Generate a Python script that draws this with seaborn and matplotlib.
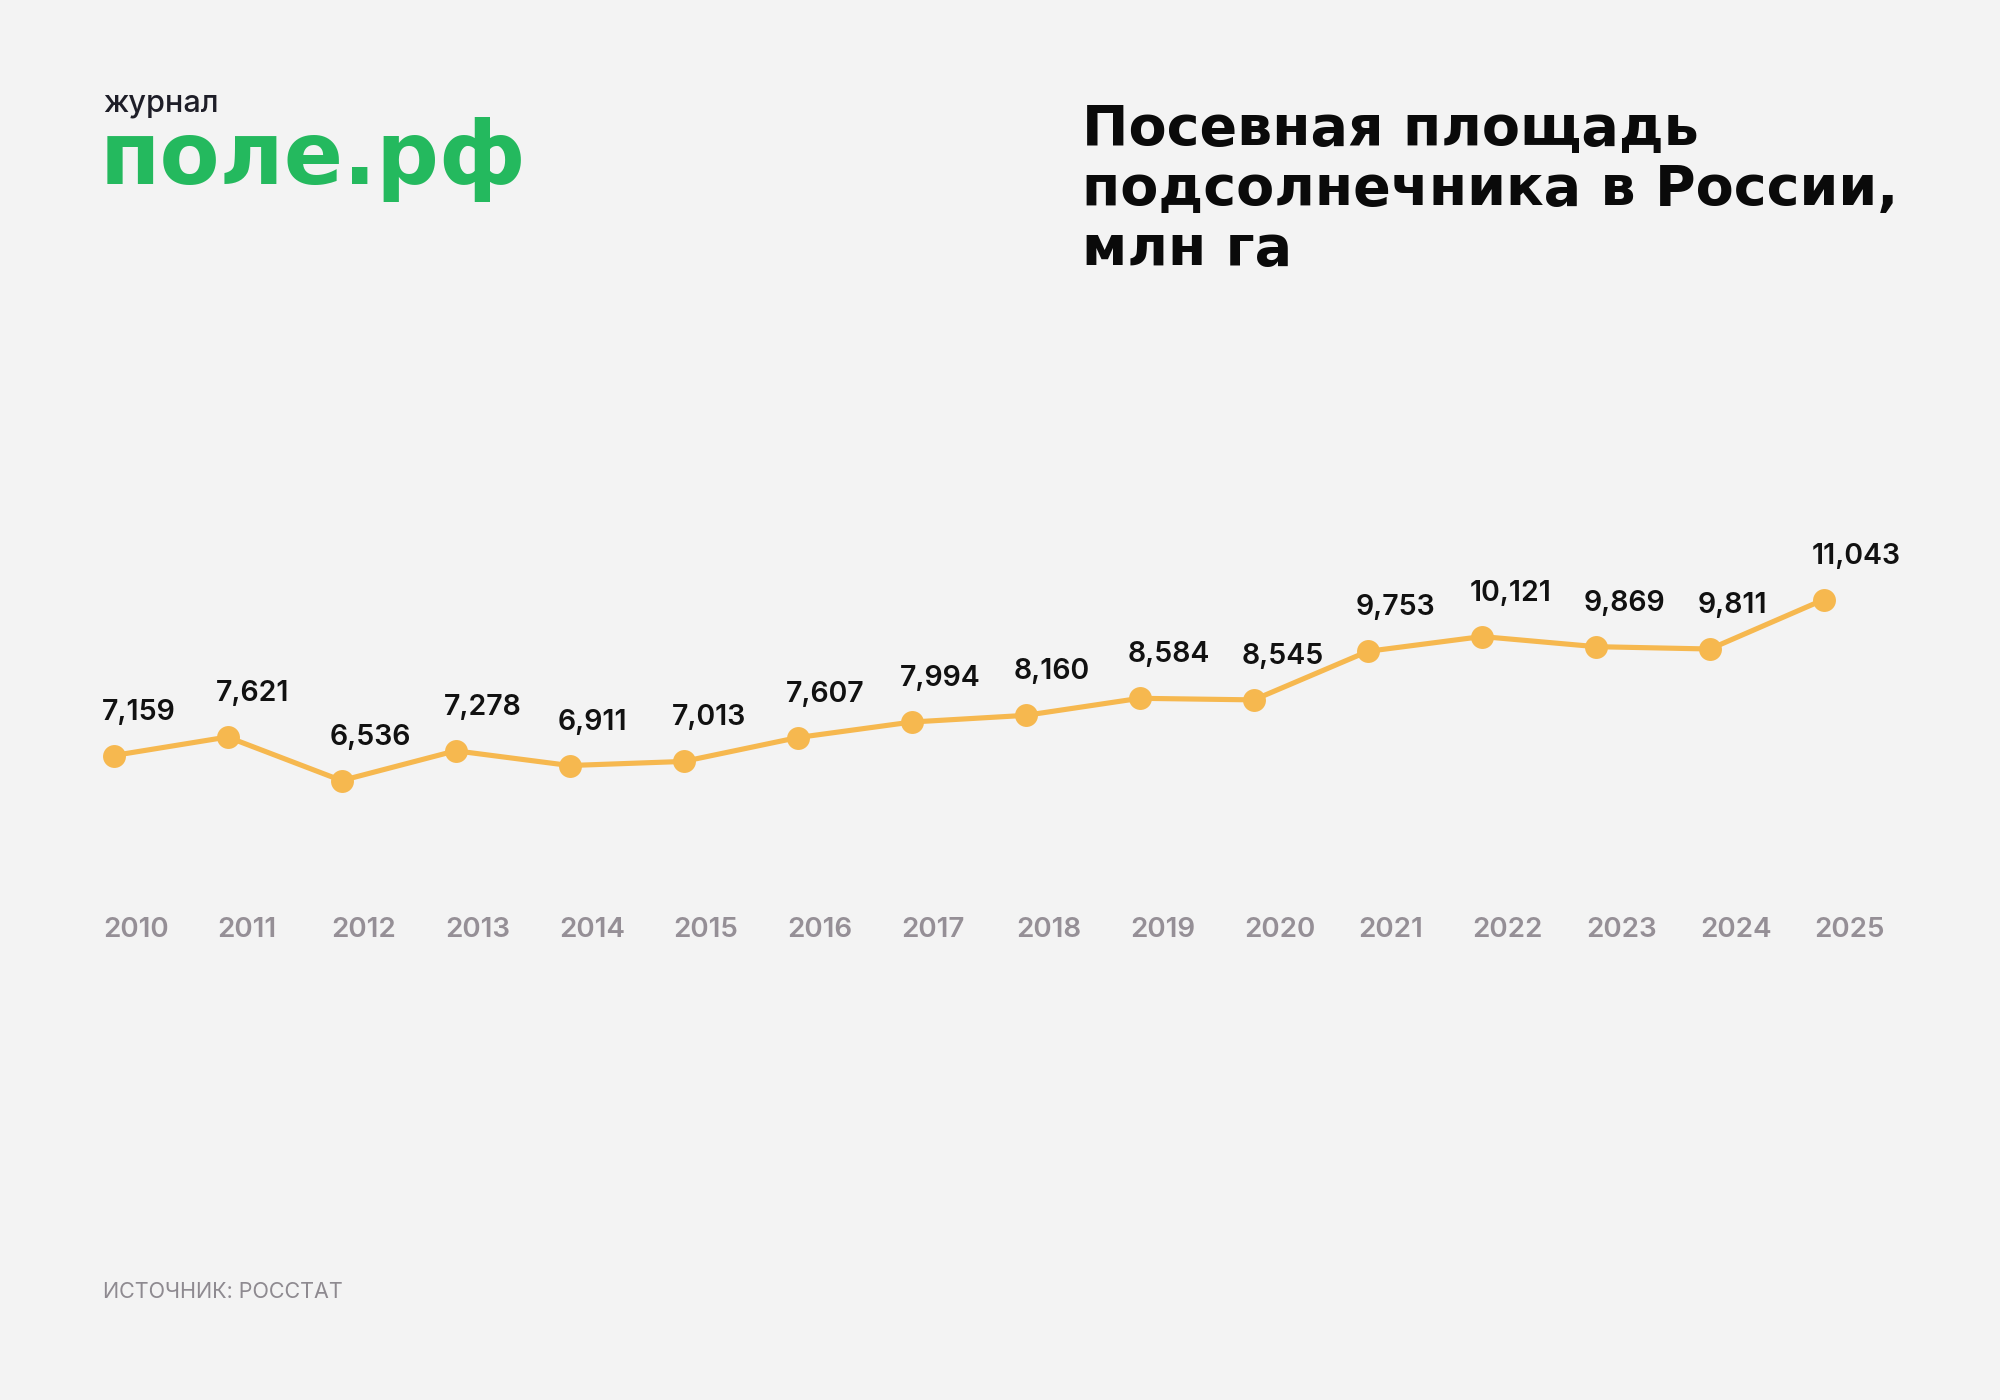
import matplotlib
matplotlib.use("Agg")
import matplotlib.pyplot as plt
import matplotlib.transforms as mtransforms
import seaborn as sns
import pandas as pd

years = [2010, 2011, 2012, 2013, 2014, 2015, 2016, 2017, 2018, 2019, 2020, 2021, 2022, 2023, 2024, 2025]
area = [7.159, 7.621, 6.536, 7.278, 6.911, 7.013, 7.607, 7.994, 8.160, 8.584, 8.545, 9.753, 10.121, 9.869, 9.811, 11.043]
year_labels = [str(y) for y in years]
value_labels = ["7,159", "7,621", "6,536", "7,278", "6,911", "7,013", "7,607", "7,994", "8,160", "8,584",
                "8,545", "9,753", "10,121", "9,869", "9,811", "11,043"]

title_lines = ["Посевная площадь", "подсолнечника в России,", "млн га"]
logo_small = "журнал"
logo_big = "поле.рф"
source = "ИСТОЧНИК: РОССТАТ"

BG = "#F3F3F3"
LINE = "#F6B84F"
GREEN = "#24B95E"
GREY = "#958F96"

sns.set_theme(style="white")
plt.rcParams["font.family"] = ["Inter", "DejaVu Sans"]

W, H = 2000, 1400
fig = plt.figure(figsize=(20, 14), dpi=100)
fig.patch.set_facecolor(BG)

# axes placed so that first/last year and min/max values land on their pixel positions
x0, x1 = 113.5, 1824.0
ytop, ybot = 599.5, 780.6
ax = fig.add_axes([x0 / W, 1 - ybot / H, (x1 - x0) / W, (ybot - ytop) / H])
ax.set_facecolor(BG)

df = pd.DataFrame({"year": years, "area": area})
sns.lineplot(data=df, x="year", y="area", ax=ax, color=LINE, linewidth=3.7,
             marker="o", markersize=16.5, markeredgewidth=0, markerfacecolor=LINE)
for l in ax.lines:
    l.set_clip_on(False)
ax.set_xlim(years[0], years[-1])
ax.set_ylim(min(area), max(area))
ax.axis("off")

# value labels
for x, y, s in zip(years, area, value_labels):
    ax.annotate(s, (x, y), xytext=(-12, 36), textcoords="offset pixels",
                ha="left", va="baseline", fontsize=20.5, fontweight="semibold", color="#111111")

# year labels
trans = mtransforms.blended_transform_factory(ax.transData, fig.transFigure) + \
    mtransforms.ScaledTranslation(-10 / 100, 0, fig.dpi_scale_trans)
for x, s in zip(years, year_labels):
    ax.text(x, 1 - 937 / H, s, transform=trans, ha="left", va="baseline",
            fontsize=20, fontweight="semibold", color=GREY)

# title
for i, line in enumerate(title_lines):
    fig.text(1082 / W, 1 - (145 + 60 * i) / H, line, ha="left", va="baseline",
             fontsize=40, fontweight="bold", color="#0A0A0A",
             family=["DejaVu Sans"])

# logo
fig.text(103 / W, 1 - 111 / H, logo_small, ha="left", va="baseline",
         fontsize=22, fontweight="medium", color="#1E1E28")
fig.text(100 / W, 1 - 184 / H, logo_big, ha="left", va="baseline",
         fontsize=63, fontweight="bold", color=GREEN, family=["DejaVu Sans"])

# source
fig.text(103 / W, 1 - 1298 / H, source, ha="left", va="baseline",
         fontsize=15.5, fontweight="normal", color="#8E8A90")

fig.savefig("out.png", dpi=100, facecolor=BG)
